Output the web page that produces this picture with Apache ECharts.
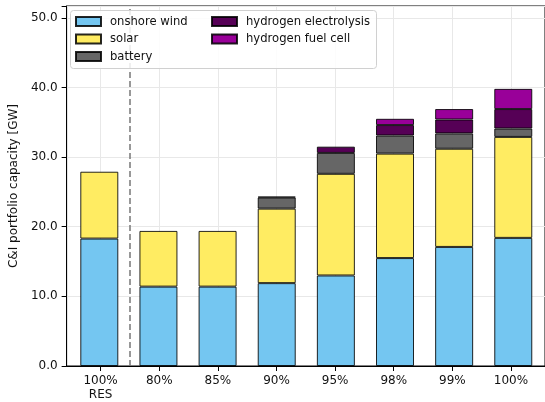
<!DOCTYPE html>
<html>
<head>
<meta charset="utf-8">
<script src="https://cdn.jsdelivr.net/npm/echarts@6/dist/echarts.min.js"></script>
<style>
  html, body { margin: 0; padding: 0; background: #fff; }
  #chart { width: 545px; height: 402px; }
</style>
</head>
<body>
<div id="chart"></div>
<script>
// Scenario labels along the x axis
const categories = ['100%\nRES', '80%', '85%', '90%', '95%', '98%', '99%', '100%'];

// Installed capacity per technology [GW]
const onshoreWind = [18.3, 11.4, 11.4, 11.9, 13.0, 15.5, 17.1, 18.4];
const solar = [9.6, 8.0, 8.0, 10.7, 14.6, 15.0, 14.1, 14.5];
const battery = [null, null, null, 1.6, 3.0, 2.6, 2.2, 1.2];
const hydrogenElectrolysis = [null, null, null, 0.12, 0.9, 1.5, 2.0, 2.8];
const hydrogenFuelCell = [null, null, null, null, null, 0.9, 1.5, 2.9];

const yTicks = [0, 10, 20, 30, 40, 50];
const Y_MAX = 51.7;

const FONT = 'DejaVu Sans';
const positions = categories.map((_, i) => i);

// Frame geometry: axes frame, and the band layout the bars sit on
const FRAME = { left: 65, right: -3, top: 6, bottom: 36 };
const BAND = 59.14;
const barsLeft = 65 + 0.58 * BAND - BAND / 2;
const barsRight = 545 - (barsLeft + categories.length * BAND);

function series(name, values, color) {
  return {
    name: name,
    type: 'bar',
    stack: 'total',
    xAxisIndex: 1,
    yAxisIndex: 1,
    barWidth: 38,
    data: values,
    itemStyle: { color: color, borderColor: 'rgba(0,0,0,0.85)', borderWidth: 1 },
    emphasis: { disabled: true }
  };
}

const legendCommon = {
  orient: 'vertical',
  top: 10.5,
  itemWidth: 25, itemHeight: 9, itemGap: 5.5,
  icon: 'rect',
  textStyle: { fontSize: 11.6, fontFamily: FONT, color: '#111', padding: [0, 0, 0, 4] },
  selectedMode: false, z: 20
};

const chart = echarts.init(document.getElementById('chart'), null, { renderer: 'canvas' });

chart.setOption({
  animation: false,
  textStyle: { fontFamily: FONT },
  grid: [
    Object.assign({ show: true, borderColor: '#000', borderWidth: 1, backgroundColor: 'transparent' }, FRAME),
    { left: barsLeft, right: barsRight, top: FRAME.top, bottom: FRAME.bottom }
  ],
  xAxis: [
    {
      type: 'value',
      gridIndex: 0,
      min: -0.58,
      max: 7.58,
      axisLine: { show: true, onZero: false, lineStyle: { color: '#000', width: 1 } },
      axisTick: { show: true, customValues: positions, length: 5, lineStyle: { color: '#000' } },
      axisLabel: {
        customValues: positions,
        formatter: v => categories[Math.round(v)],
        color: '#111', fontSize: 12, fontFamily: FONT, margin: 7.5, lineHeight: 14
      },
      splitLine: { show: true, lineStyle: { color: '#e8e8e8', width: 1 } }
    },
    {
      type: 'category',
      gridIndex: 1,
      data: categories,
      boundaryGap: true,
      show: false
    }
  ],
  yAxis: [
    {
      type: 'value',
      gridIndex: 0,
      min: 0,
      max: Y_MAX,
      interval: 10,
      name: 'C&I portfolio capacity [GW]',
      nameLocation: 'middle',
      nameGap: 44,
      nameTextStyle: { color: '#111', fontSize: 12, fontFamily: FONT },
      axisLine: { show: true, onZero: false, lineStyle: { color: '#000', width: 1 } },
      axisTick: { show: true, length: 5, lineStyle: { color: '#000' } },
      axisLabel: {
        color: '#111', fontSize: 12, fontFamily: FONT, margin: 9,
        formatter: v => (yTicks.indexOf(v) >= 0 ? v.toFixed(1) : '')
      },
      splitLine: { show: true, lineStyle: { color: '#e8e8e8', width: 1 } }
    },
    {
      type: 'value',
      gridIndex: 1,
      min: 0,
      max: Y_MAX,
      show: false,
      splitLine: { show: false }
    }
  ],
  legend: [
    Object.assign({ data: ['onshore wind', 'solar', 'battery'], left: 70 }, legendCommon),
    Object.assign({ data: ['hydrogen electrolysis', 'hydrogen fuel cell'], left: 206 }, legendCommon)
  ],
  graphic: [
    {
      type: 'rect', z: 15, silent: true,
      shape: { x: 70.5, y: 10.5, width: 306, height: 58, r: 3 },
      style: { fill: 'rgba(255,255,255,0.85)', stroke: '#d0d0d0', lineWidth: 1 }
    }
  ],
  series: [
    // separator between the reference case and the target scenarios
    {
      type: 'line',
      xAxisIndex: 0,
      yAxisIndex: 0,
      data: [[0.5, 0]],
      showSymbol: false,
      lineStyle: { opacity: 0 },
      silent: true,
      markLine: {
        silent: true,
        symbol: 'none',
        label: { show: false },
        lineStyle: { color: '#777', width: 1.5, type: [6, 3] },
        data: [{ xAxis: 0.5 }]
      }
    },
    series('onshore wind', onshoreWind, '#74c6f1'),
    series('solar', solar, '#ffec62'),
    series('battery', battery, '#666666'),
    series('hydrogen electrolysis', hydrogenElectrolysis, '#560056'),
    series('hydrogen fuel cell', hydrogenFuelCell, '#990099')
  ]
});
</script>
</body>
</html>
